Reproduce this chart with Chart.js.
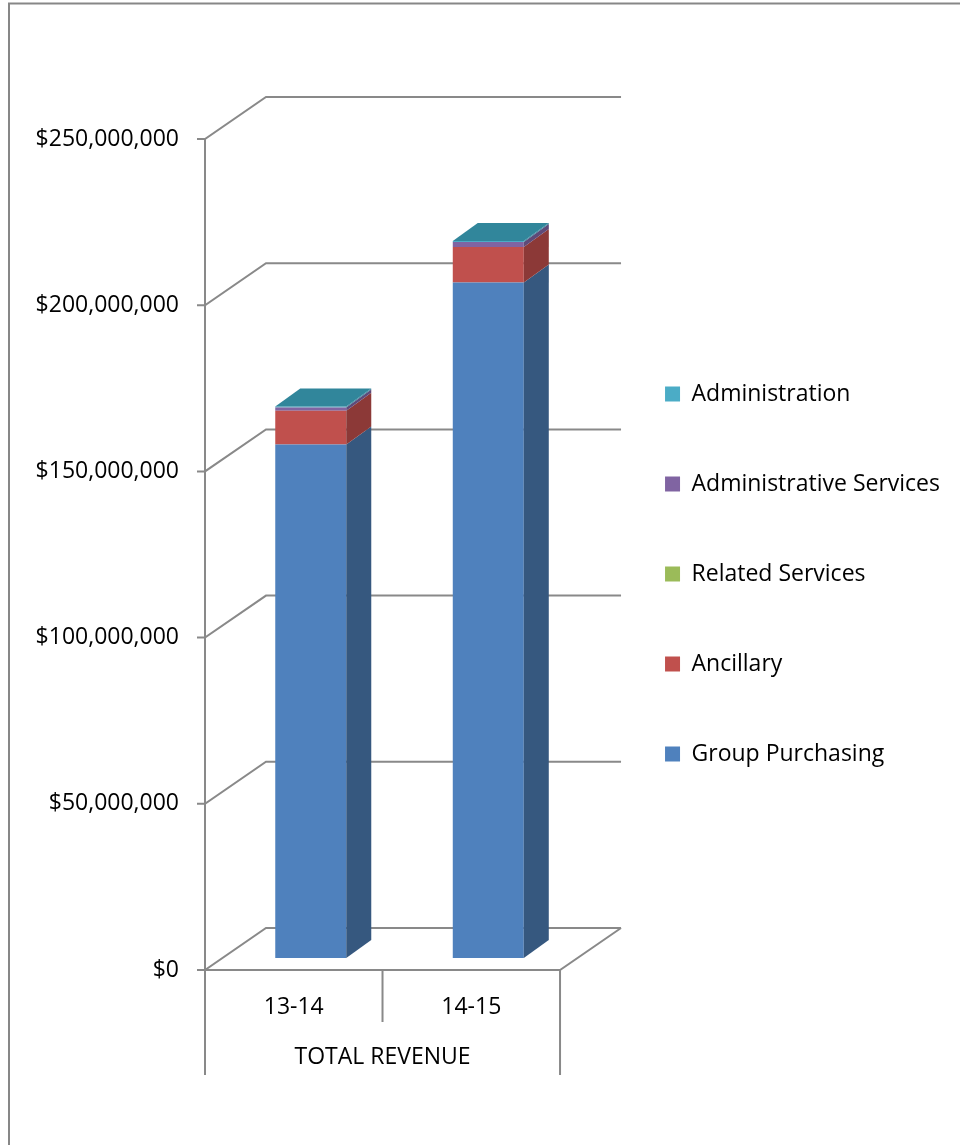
<!DOCTYPE html>
<html>
<head>
<meta charset="utf-8">
<title>Total Revenue</title>
<script src="https://cdn.jsdelivr.net/npm/chart.js@4.4.1/dist/chart.umd.min.js"></script>
<style>
  html, body { margin: 0; padding: 0; background: #fff; }
  #wrap { position: relative; width: 960px; height: 1145px; }
</style>
</head>
<body>
<div id="wrap"><canvas id="revenueChart"></canvas></div>
<script>
const years = ["13-14", "14-15"];
const groupPurchasing = [154500000, 203200000];
const ancillary = [10100000, 10700000];
const relatedServices = [0, 0];
const administrativeServices = [1000000, 1500000];
const administration = [300000, 300000];
const yTicks = [0, 50000000, 100000000, 150000000, 200000000, 250000000];

const FONT = "'Open Sans', 'Noto Sans', sans-serif";
const GRID = "#898989";
// back wall offset, bar offset behind the front plane, bar thickness
const DEPTH_X = 61, DEPTH_Y = -42;
const SHIFT_X = 17, SHIFT_Y = -12;
const BAR_DX = 25, BAR_DY = -18;

const frontColors = ["#4F81BD", "#C0504D", "#9BBB59", "#8064A2", "#4BACC6"];
const sideColors = ["#36587f", "#8c3937", "#71893f", "#5e4a79", "#37809a"];
const topColors = ["#4673aa", "#a84644", "#86a34c", "#70578f", "#31869b"];

const fake3d = {
    id: "fake3d",
    beforeDatasetsDraw(chart) {
        const { ctx, chartArea: a, scales: { x, y } } = chart;
        ctx.save();
        ctx.strokeStyle = GRID;
        ctx.lineWidth = 2;
        ctx.beginPath();
        yTicks.forEach(v => {
            const py = y.getPixelForValue(v);
            ctx.moveTo(a.left - 8, py);
            ctx.lineTo(a.left, py);
            ctx.lineTo(a.left + DEPTH_X, py + DEPTH_Y);
            ctx.lineTo(a.right + DEPTH_X, py + DEPTH_Y);
        });
        ctx.moveTo(a.left, a.top);
        ctx.lineTo(a.left, a.bottom);
        ctx.lineTo(a.right, a.bottom);
        ctx.lineTo(a.right + DEPTH_X, a.bottom + DEPTH_Y);

        // dividers of the two-level category axis
        const half = (x.getPixelForValue(1) - x.getPixelForValue(0)) / 2;
        for (let i = 0; i <= years.length; i++) {
            const px = x.getPixelForValue(0) - half + i * half * 2;
            const outer = i === 0 || i === years.length;
            ctx.moveTo(px, a.bottom);
            ctx.lineTo(px, a.bottom + (outer ? 105 : 52));
        }
        ctx.stroke();
        ctx.restore();

        ctx.save();
        ctx.translate(SHIFT_X, SHIFT_Y);
    },
    afterDatasetsDraw(chart) {
        const { ctx } = chart;
        const n = chart.data.datasets.length;

        chart.data.datasets.forEach((ds, d) => {
            chart.getDatasetMeta(d).data.forEach(el => {
                if (Math.abs(el.base - el.y) < 0.5) return;
                const r = el.x + el.width / 2;
                ctx.fillStyle = sideColors[d];
                ctx.beginPath();
                ctx.moveTo(r, el.y);
                ctx.lineTo(r + BAR_DX, el.y + BAR_DY);
                ctx.lineTo(r + BAR_DX, el.base + BAR_DY);
                ctx.lineTo(r, el.base);
                ctx.closePath();
                ctx.fill();
            });
        });

        years.forEach((_, i) => {
            let d = n - 1;
            while (d > 0 && !chart.data.datasets[d].data[i]) d--;
            const el = chart.getDatasetMeta(d).data[i];
            const l = el.x - el.width / 2, r = el.x + el.width / 2;
            ctx.fillStyle = topColors[d];
            ctx.beginPath();
            ctx.moveTo(l, el.y);
            ctx.lineTo(l + BAR_DX, el.y + BAR_DY);
            ctx.lineTo(r + BAR_DX, el.y + BAR_DY);
            ctx.lineTo(r, el.y);
            ctx.closePath();
            ctx.fill();
        });

        ctx.restore();
    },
    afterDraw(chart) {
        const { ctx } = chart;
        ctx.save();
        ctx.strokeStyle = "#878787";
        ctx.lineWidth = 2;
        ctx.beginPath();
        ctx.moveTo(9, chart.height);
        ctx.lineTo(9, 3.5);
        ctx.lineTo(chart.width, 3.5);
        ctx.stroke();
        ctx.restore();
    }
};

const series = [
    ["Group Purchasing", groupPurchasing],
    ["Ancillary", ancillary],
    ["Related Services", relatedServices],
    ["Administrative Services", administrativeServices],
    ["Administration", administration]
];

const font = { family: FONT, size: 23 };
const hidden = {
    ticks: { display: false },
    grid: { display: false, drawTicks: false },
    border: { display: false }
};

new Chart(document.getElementById("revenueChart"), {
    type: "bar",
    data: {
        labels: years,
        datasets: series.map(([label, data], i) => ({
            label,
            data,
            backgroundColor: frontColors[i],
            borderWidth: 0,
            categoryPercentage: 1,
            barPercentage: 0.4
        }))
    },
    options: {
        responsive: true,
        maintainAspectRatio: false,
        animation: false,
        layout: { padding: { top: 40, bottom: 37, left: 0, right: 10 } },
        plugins: {
            legend: {
                position: "right",
                reverse: true,
                maxWidth: 420,
                labels: { boxWidth: 15, boxHeight: 15, padding: 67, color: "#000", font }
            },
            tooltip: { enabled: false }
        },
        scales: {
            x: {
                stacked: true,
                grid: { display: false, drawTicks: false },
                border: { display: false },
                ticks: { color: "#000", font, padding: 24 },
                title: { display: true, text: "TOTAL REVENUE", color: "#000", font, padding: { top: 0, bottom: 37 } },
                afterFit: s => { s.height = 138; }
            },
            y: {
                stacked: true,
                min: 0,
                max: 250000000,
                ticks: {
                    stepSize: 50000000,
                    color: "#000",
                    font,
                    padding: 26,
                    callback: v => "$" + v.toLocaleString("en-US")
                },
                grid: { display: false, drawTicks: false },
                border: { display: false },
                afterFit: s => { s.width = 205; }
            },
            xTop: { type: "category", position: "top", ...hidden, afterFit: s => { s.height = 99; } },
            yDepth: { type: "linear", position: "right", ...hidden, afterFit: s => { s.width = 38; } }
        }
    },
    plugins: [fake3d]
});
</script>
</body>
</html>
